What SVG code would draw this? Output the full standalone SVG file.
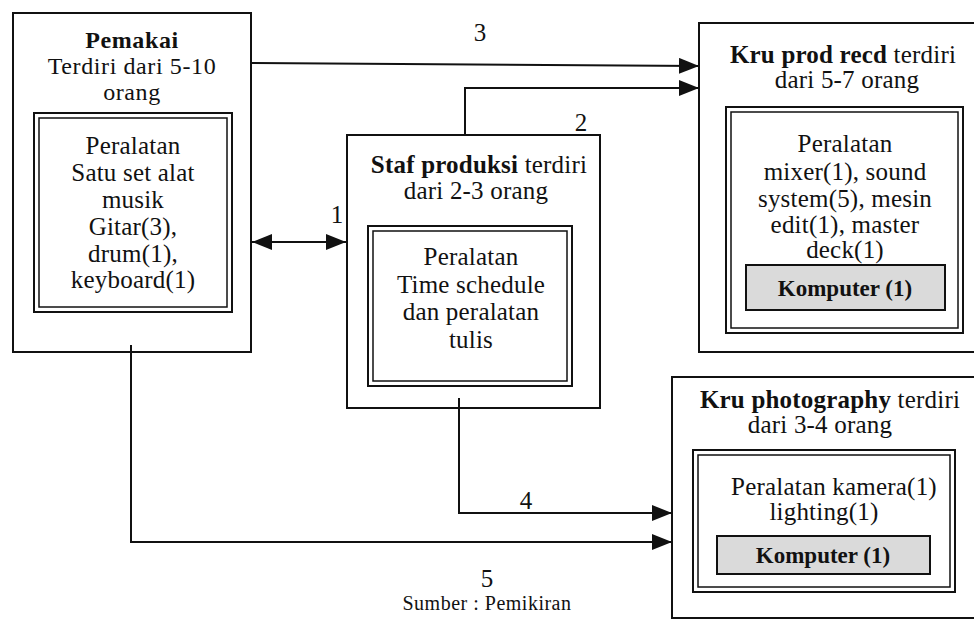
<svg xmlns="http://www.w3.org/2000/svg" width="974" height="624" viewBox="0 0 974 624">
  <style>
    text { font-family: "Liberation Serif", "Times New Roman", serif; font-size: 25px; letter-spacing: 0.2px; fill: #111; text-anchor: middle; }
    .b { font-weight: bold; }
    .hd { font-size: 24px; letter-spacing: 0.6px; }
    .pct { font-size: 23px; letter-spacing: 0; }
    .box { fill: #fff; stroke: #111; stroke-width: 2; }
    .dbl { fill: none; stroke: #111; stroke-width: 2; }
    .dbl2 { fill: none; stroke: #111; stroke-width: 1.5; }
    .pc { fill: #dadada; stroke: #111; stroke-width: 2; }
    .wire { fill: none; stroke: #111; stroke-width: 2; }
    .src { font-size: 20px; letter-spacing: 0.5px; }
  </style>
  <defs>
    <marker id="head" viewBox="0 0 20 16" refX="20" refY="8" markerWidth="20" markerHeight="16" markerUnits="userSpaceOnUse" orient="auto-start-reverse">
      <path d="M0,0 L20,8 L0,16 Z" fill="#111"/>
    </marker>
  </defs>
  <rect width="974" height="624" fill="#fff"/>

  <!-- Pemakai -->
  <g id="pemakai">
    <rect class="box" x="13" y="13" width="238" height="339"/>
    <text class="hd" x="132" y="48"><tspan class="b">Pemakai</tspan></text>
    <text class="hd" x="132" y="74">Terdiri dari 5-10</text>
    <text class="hd" x="132" y="100">orang</text>
    <rect class="dbl" x="34" y="113" width="198" height="199"/>
    <rect class="dbl2" x="39" y="118" width="188" height="189"/>
    <text x="133" y="154">Peralatan</text>
    <text x="133" y="181">Satu set alat</text>
    <text x="133" y="208">musik</text>
    <text x="133" y="235">Gitar(3),</text>
    <text x="133" y="262">drum(1),</text>
    <text x="133" y="288">keyboard(1)</text>
  </g>

  <!-- Staf produksi -->
  <g id="staf">
    <rect class="box" x="347" y="135" width="253" height="273"/>
    <text x="479" y="173"><tspan class="b">Staf produksi</tspan> terdiri</text>
    <text x="476" y="199">dari 2-3 orang</text>
    <rect class="dbl" x="368" y="226" width="204" height="160"/>
    <rect class="dbl2" x="373" y="231" width="194" height="150"/>
    <text x="471" y="265">Peralatan</text>
    <text x="471" y="293">Time schedule</text>
    <text x="471" y="320">dan peralatan</text>
    <text x="471" y="348">tulis</text>
  </g>

  <!-- Kru prod recd -->
  <g id="kru-recd">
    <rect class="box" x="699" y="23" width="290" height="329"/>
    <text x="843" y="63"><tspan class="b">Kru prod recd</tspan> terdiri</text>
    <text x="847" y="88">dari 5-7 orang</text>
    <rect class="dbl" x="726" y="107" width="237" height="226"/>
    <rect class="dbl2" x="731" y="112" width="227" height="216"/>
    <text x="845" y="152">Peralatan</text>
    <text x="845" y="180">mixer(1), sound</text>
    <text x="845" y="207">system(5), mesin</text>
    <text x="845" y="233">edit(1), master</text>
    <text x="845" y="258">deck(1)</text>
    <rect class="pc" x="746" y="265" width="199" height="45"/>
    <text class="b pct" x="845" y="296">Komputer (1)</text>
  </g>

  <!-- Kru photography -->
  <g id="kru-photo">
    <rect class="box" x="672" y="377" width="317" height="241"/>
    <text x="830" y="408"><tspan class="b">Kru photography</tspan> terdiri</text>
    <text x="820" y="433">dari 3-4 orang</text>
    <rect class="dbl" x="693" y="450" width="262" height="142"/>
    <rect class="dbl2" x="698" y="455" width="252" height="132"/>
    <text x="834" y="495">Peralatan kamera(1)</text>
    <text x="824" y="520">lighting(1)</text>
    <rect class="pc" x="717" y="536" width="213" height="38"/>
    <text class="b pct" x="823" y="563">Komputer (1)</text>
  </g>

  <!-- Connectors -->
  <g id="connectors">
    <line class="wire" x1="252" y1="242" x2="346" y2="242" marker-start="url(#head)" marker-end="url(#head)"/>
    <path class="wire" d="M465,135 V88 H699" marker-end="url(#head)"/>
    <path class="wire" d="M251,63 L699,66" marker-end="url(#head)"/>
    <path class="wire" d="M459,398 V513 H672" marker-end="url(#head)"/>
    <path class="wire" d="M131,345 V542 H672" marker-end="url(#head)"/>
    <text x="337" y="223">1</text>
    <text x="581" y="131">2</text>
    <text x="480" y="41">3</text>
    <text x="526" y="509">4</text>
    <text x="487" y="587">5</text>
    <text class="src" x="487" y="610">Sumber : Pemikiran</text>
  </g>
</svg>
